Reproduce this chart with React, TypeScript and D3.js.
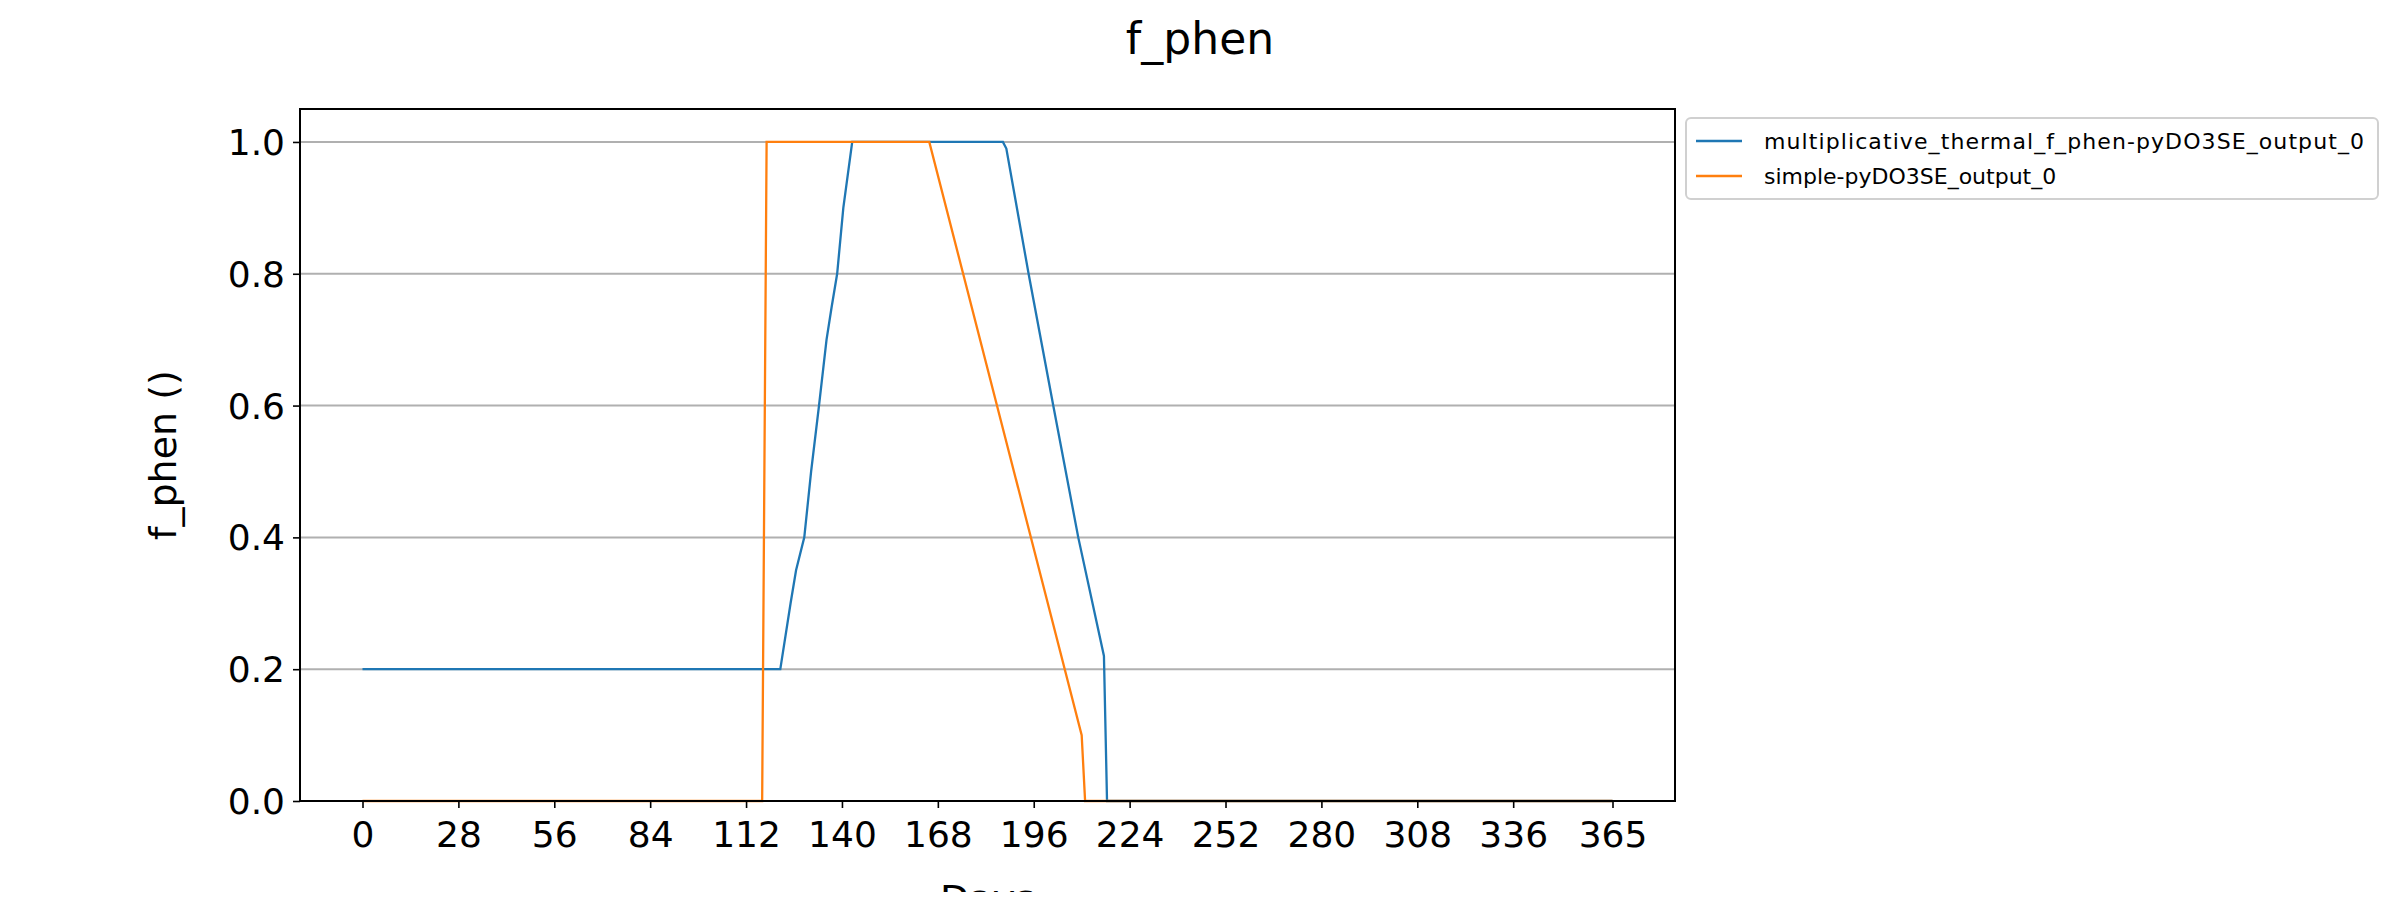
import { useEffect, useRef } from "react";
import * as d3 from "d3";

// day / value pairs
const thermalDays = [0, 122, 125, 126.6, 129, 131, 133.3, 135.5, 137, 138.6, 140.4, 143, 187, 188, 194.5, 201.7, 209, 216.5, 217.4, 365];
const thermalVals = [0.2, 0.2, 0.3, 0.35, 0.4, 0.5, 0.6, 0.7, 0.75, 0.8, 0.9, 1.0, 1.0, 0.99, 0.8, 0.6, 0.4, 0.22, 0, 0];
const simpleDays = [0, 116.7, 118, 165.5, 210, 211, 365];
const simpleVals = [0, 0, 1.0, 1.0, 0.1, 0, 0];
const xTicks = [0, 28, 56, 84, 112, 140, 168, 196, 224, 252, 280, 308, 336, 365];
const yTicks = [0, 0.2, 0.4, 0.6, 0.8, 1.0];
const seriesNames = ["multiplicative_thermal_f_phen-pyDO3SE_output_0", "simple-pyDO3SE_output_0"];
const colors = ["#1f77b4", "#ff7f0e"];

const W = 2400, H = 900;
const m = { left: 300, right: 1675, top: 109, bottom: 801 };

export default function App() {
  const ref = useRef<SVGSVGElement | null>(null);

  useEffect(() => {
    if (!ref.current) return;
    const svg = d3.select(ref.current);
    svg.selectAll("*").remove();
    const font = "DejaVu Sans";

    const x = d3.scaleLinear().domain([-18.25, 383.25]).range([m.left, m.right]);
    const y = d3.scaleLinear().domain([0, 1.05]).range([m.bottom, m.top]);

    svg.append("rect").attr("width", W).attr("height", H).attr("fill", "white");

    // grid
    svg.append("g").selectAll("line").data(yTicks).join("line")
      .attr("x1", m.left).attr("x2", m.right)
      .attr("y1", d => y(d)).attr("y2", d => y(d))
      .attr("stroke", "#b0b0b0").attr("stroke-width", 2);

    const line = d3.line<[number, number]>().x(d => x(d[0])).y(d => y(d[1]));
    const series = [
      d3.zip(thermalDays, thermalVals) as [number, number][],
      d3.zip(simpleDays, simpleVals) as [number, number][],
    ];
    series.forEach((s, i) => {
      svg.append("path").datum(s).attr("d", line).attr("fill", "none")
        .attr("stroke", colors[i]).attr("stroke-width", 2.3);
    });

    // frame
    svg.append("rect").attr("x", m.left).attr("y", m.top)
      .attr("width", m.right - m.left).attr("height", m.bottom - m.top)
      .attr("fill", "none").attr("stroke", "black").attr("stroke-width", 2);

    const xa = svg.append("g").attr("transform", `translate(0,${m.bottom})`)
      .call(d3.axisBottom(x).tickValues(xTicks).tickFormat(d3.format("d")).tickSize(7).tickPadding(8));
    const ya = svg.append("g").attr("transform", `translate(${m.left},0)`)
      .call(d3.axisLeft(y).tickValues(yTicks).tickFormat(d3.format(".1f")).tickSize(7).tickPadding(8));
    [xa, ya].forEach(a => {
      a.select(".domain").remove();
      a.selectAll("line").attr("stroke", "black").attr("stroke-width", 1.6);
      a.selectAll("text").attr("font-family", font).attr("font-size", 36).attr("fill", "black");
    });
    xa.selectAll("text").attr("dy", "0.85em");
    ya.selectAll("text").attr("dy", "0.35em");

    svg.append("text").attr("x", W / 2).attr("y", 54)
      .attr("text-anchor", "middle").attr("font-family", font).attr("font-size", 44).text("f_phen");
    svg.append("text").attr("x", (m.left + m.right) / 2).attr("y", 912)
      .attr("text-anchor", "middle").attr("font-family", font).attr("font-size", 38).text("Days");
    svg.append("text").attr("transform", `translate(176,${(m.top + m.bottom) / 2}) rotate(-90)`)
      .attr("text-anchor", "middle").attr("font-family", font).attr("font-size", 38).text("f_phen ()");

    // legend
    const lg = svg.append("g").attr("transform", "translate(1686,118)");
    lg.append("rect").attr("width", 692).attr("height", 81).attr("rx", 5)
      .attr("fill", "white").attr("stroke", "#d0d0d0").attr("stroke-width", 2);
    seriesNames.forEach((n, i) => {
      const yy = 23 + i * 35;
      lg.append("line").attr("x1", 10).attr("x2", 56).attr("y1", yy).attr("y2", yy)
        .attr("stroke", colors[i]).attr("stroke-width", 2.3);
      lg.append("text").attr("x", 78).attr("y", yy).attr("dy", "0.35em")
        .attr("font-family", font).attr("font-size", 22)
        .attr("textLength", i === 0 ? 600 : null).text(n);
    });
  }, []);

  return <svg ref={ref} width={W} height={H} style={{ display: "block", margin: -8 }} />;
}
